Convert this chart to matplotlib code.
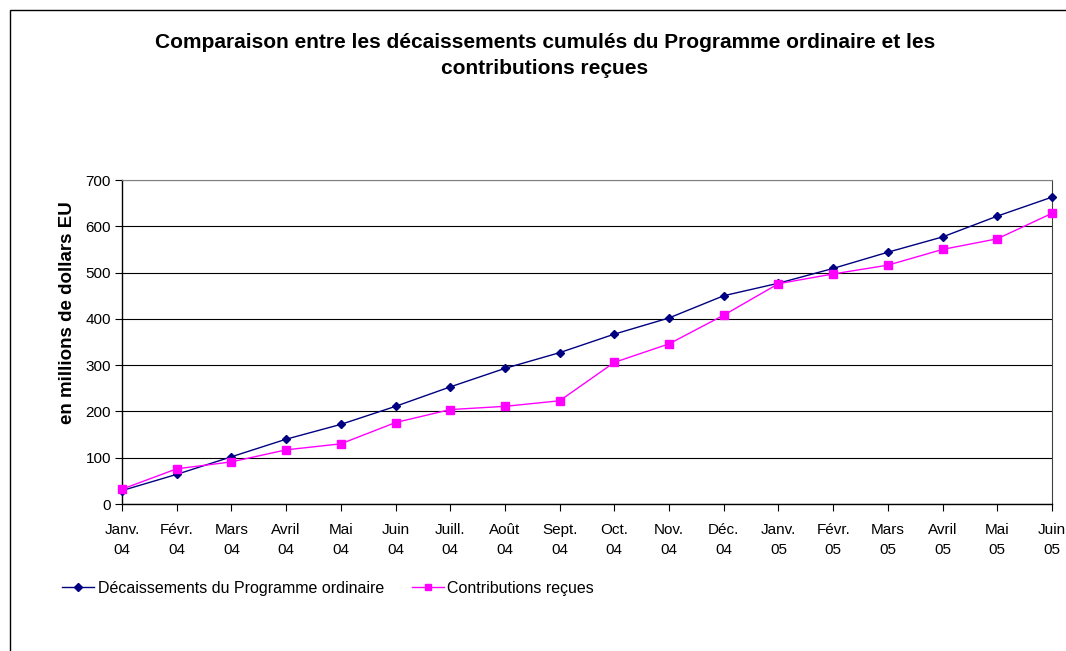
import matplotlib
matplotlib.use("Agg")
import matplotlib.pyplot as plt
from matplotlib.patches import Rectangle
from matplotlib.lines import Line2D

plt.rcParams['font.family'] = ['Liberation Sans', 'DejaVu Sans']

months = ["Janv.\n04", "Févr.\n04", "Mars\n04", "Avril\n04", "Mai\n04", "Juin\n04",
          "Juill.\n04", "Août\n04", "Sept.\n04", "Oct.\n04", "Nov.\n04", "Déc.\n04",
          "Janv.\n05", "Févr.\n05", "Mars\n05", "Avril\n05", "Mai\n05", "Juin\n05"]
decaissements = [29, 64, 102, 140, 172, 211, 253, 293, 327, 367, 402, 450,
                 477, 509, 544, 577, 622, 663]
contributions = [32, 76, 91, 117, 130, 176, 204, 211, 223, 306, 346, 408,
                 476, 497, 516, 550, 573, 628]
series_names = ["Décaissements du Programme ordinaire", "Contributions reçues"]
title_lines = ["Comparaison entre les décaissements cumulés du Programme ordinaire et les",
               "contributions reçues"]
ylabel = "en millions de dollars EU"

W, H = 1066, 651
fig = plt.figure(figsize=(W / 100, H / 100), dpi=100)
fig.patch.set_facecolor('white')
# outer frame (extends beyond right/bottom edges)
fig.add_artist(Rectangle((10 / W, -0.1), 1.2, (H - 10) / H + 0.1,
                         transform=fig.transFigure, fill=False, edgecolor='black',
                         linewidth=1.0))

ax = fig.add_axes([122 / W, (H - 504) / H, (1052 - 122) / W, (504 - 180) / H])
x = list(range(len(months)))
ax.plot(x, decaissements, color='#000080', marker='D', markersize=4.5, linewidth=1.0,
        label=series_names[0], zorder=3, clip_on=False)
ax.plot(x, contributions, color='#FF00FF', marker='s', markersize=5.5, linewidth=1.0,
        label=series_names[1], zorder=3, clip_on=False)

ax.set_xlim(0, len(months) - 1)
ax.set_ylim(0, 700)
ax.set_yticks(range(0, 701, 100))
ax.set_xticks(x)
ax.set_xticklabels(months, fontsize=11, linespacing=1.55)
ax.tick_params(axis='y', labelsize=11, direction='out', length=5, width=0.8, pad=3)
ax.tick_params(axis='x', direction='out', length=5, width=0.8, pad=9)
ax.yaxis.grid(True, color='black', linewidth=0.8)
ax.set_axisbelow(True)
for s in ['left', 'bottom']:
    ax.spines[s].set_color('black')
    ax.spines[s].set_linewidth(1.0)
ax.spines['top'].set_color('#808080')
ax.spines['right'].set_color('#404040')

fig.text(68 / W, 1 - 313 / H, ylabel, rotation=90, ha='center', va='center',
         fontsize=13.5, fontweight='bold')

fig.text(545 / W, 1 - 42 / H, title_lines[0], ha='center', va='center', fontsize=15,
         fontweight='bold')
fig.text(545 / W, 1 - 68 / H, title_lines[1], ha='center', va='center', fontsize=15,
         fontweight='bold')

handles = [Line2D([], [], color='#000080', marker='D', markersize=4, linewidth=1.0),
           Line2D([], [], color='#FF00FF', marker='s', markersize=5, linewidth=1.0)]
fig.legend(handles, series_names, loc='center left', bbox_to_anchor=(48 / W, 1 - 588 / H),
           ncol=2, frameon=False, fontsize=11.5, handlelength=2.0, handletextpad=0.2,
           columnspacing=1.75)

fig.savefig("out.png", dpi=100, facecolor='white')
